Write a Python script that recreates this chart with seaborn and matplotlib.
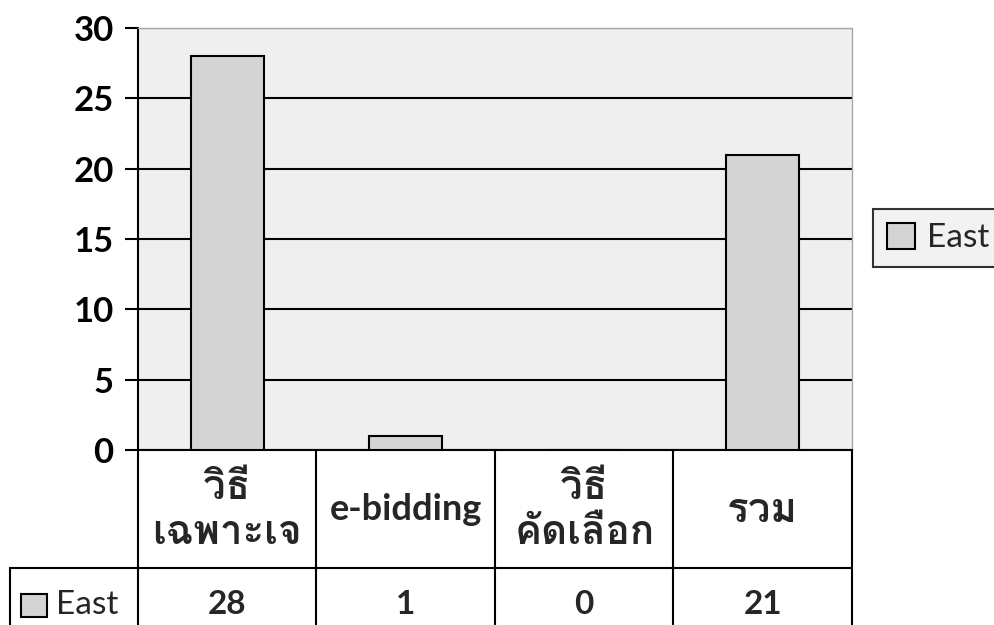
import matplotlib
matplotlib.use("Agg")
import matplotlib.pyplot as plt
import matplotlib.transforms as mtransforms
from matplotlib import font_manager
from matplotlib.ft2font import FT2Font
from matplotlib.patches import Patch, Rectangle
from matplotlib.lines import Line2D
import seaborn as sns

# ==========================
# Data
# ==========================
categories = ["วิธี\nเฉพาะเจ", "e-bidding", "วิธี\nคัดเลือก", "รวม"]
values = [28, 1, 0, 21]
series_name = "East"
y_ticks = [0, 5, 10, 15, 20, 25, 30]


def find_thai_font():
    # look for any installed font that has Thai glyphs
    names = []
    for f in font_manager.fontManager.ttflist:
        try:
            if FT2Font(f.fname).get_char_index(ord("ว")) != 0:
                names.append(f.name)
        except Exception:
            pass
    return names[0] if names else None


def is_thai(text):
    return any("\u0e00" <= ch <= "\u0e7f" for ch in text)


sns.set_theme(style="white")
thai_font = find_thai_font()
families = ["Lato"]
if thai_font:
    families.append(thai_font)
families.append("DejaVu Sans")
plt.rcParams["font.family"] = families

bar_color = "#d4d4d4"
bg_color = "#efefef"

fig = plt.figure(figsize=(9.95, 6.25), dpi=100)
W, H = 995, 625
ax = fig.add_axes([138 / W, 1 - 450 / H, 714 / W, 422 / H])

sns.barplot(x=categories, y=values, color=bar_color, saturation=1, width=0.41,
            edgecolor="black", linewidth=1.5, ax=ax, zorder=3)

ax.set_facecolor(bg_color)
ax.set_xlim(-0.5, len(categories) - 0.5)
ax.set_ylim(0, 30)
ax.set_yticks(y_ticks)
ax.set_yticklabels([str(t) for t in y_ticks], fontsize=25, fontweight="bold")
ax.yaxis.grid(True, color="black", linewidth=1.5)
ax.set_axisbelow(True)
ax.tick_params(axis="y", which="major", direction="out", length=9.5, width=1.5,
               left=True, pad=8, colors="black")
ax.set_xticks([])
ax.set_xlabel("")
ax.set_ylabel("")
for side in ["top", "right"]:
    ax.spines[side].set_color("#a8a8a8")
    ax.spines[side].set_linewidth(1.0)
    ax.spines[side].set_linestyle((0, (1, 1)))
ax.spines["left"].set_linewidth(1.5)
ax.spines["left"].set_color("black")
ax.spines["bottom"].set_linewidth(1.5)
ax.spines["bottom"].set_color("black")

# ==========================
# Data table under the plot
# ==========================
trans = mtransforms.blended_transform_factory(ax.transData, fig.transFigure)
y_head = 1 - 568 / H
edges = [i - 0.5 for i in range(len(categories) + 1)]

for x in edges:
    fig.add_artist(Line2D([x, x], [1 - 450 / H, 0], transform=trans,
                          color="black", linewidth=1.5))
fig.add_artist(Line2D([10 / W, 852 / W], [y_head, y_head],
                      transform=fig.transFigure, color="black", linewidth=1.5))
fig.add_artist(Line2D([10 / W, 10 / W], [y_head, 0],
                      transform=fig.transFigure, color="black", linewidth=1.5))

for i, (cat, val) in enumerate(zip(categories, values)):
    size = 29 if is_thai(cat) else 26
    fig.text(i, 1 - 510 / H, cat, transform=trans, ha="center", va="center",
             fontsize=size, fontweight="bold", linespacing=1.25)
    fig.text(i, 1 - 605 / H, str(val), transform=trans, ha="center",
             va="center", fontsize=24, fontweight="bold")

fig.add_artist(Rectangle((21 / W, 1 - 617 / H), 26 / W, 23 / H,
                         transform=fig.transFigure, facecolor=bar_color,
                         edgecolor="black", linewidth=1.5))
fig.text(56 / W, 1 - 605 / H, series_name, ha="left", va="center", fontsize=24)

# ==========================
# Legend
# ==========================
handle = Patch(facecolor=bar_color, edgecolor="black", linewidth=1.5,
               label=series_name)
leg = fig.legend(handles=[handle], loc="center left",
                 bbox_to_anchor=(873 / W, 1 - 238 / H), fontsize=24,
                 frameon=True, fancybox=False, edgecolor="black",
                 handlelength=0.85, handleheight=0.85, handletextpad=0.35,
                 borderpad=0.42, borderaxespad=0)
leg.get_frame().set_linewidth(1.5)
leg.get_frame().set_facecolor(bg_color)

fig.savefig("out.png", dpi=100)
